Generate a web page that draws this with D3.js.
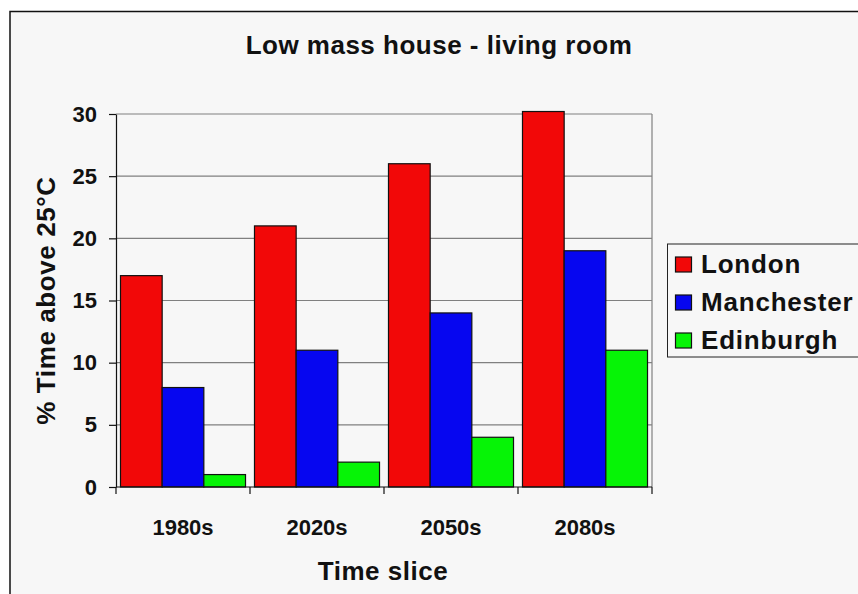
<!DOCTYPE html>
<html>
<head>
<meta charset="utf-8">
<script src="https://cdn.jsdelivr.net/npm/d3@7"></script>
<style>
  html, body { margin: 0; padding: 0; background: #fff; }
  svg { display: block; font-family: "Liberation Sans", Arial, sans-serif; font-weight: bold; }
</style>
</head>
<body>
<div id="chart"></div>
<script>
// data
const timeSlices = ['1980s', '2020s', '2050s', '2080s'];
const cities = ['London', 'Manchester', 'Edinburgh'];
const london = [17, 21, 26, 30.2];
const manchester = [8, 11, 14, 19];
const edinburgh = [1, 2, 4, 11];
const yTicks = [0, 5, 10, 15, 20, 25, 30];
const colors = ['#f20808', '#0606f0', '#06f406'];

const width = 858;
const height = 594;
const plot = { left: 116, right: 652, top: 114, bottom: 487 };

const svg = d3.select('#chart')
  .append('svg')
  .attr('width', width)
  .attr('height', height);

// outer frame of the chart
svg.append('rect')
  .attr('x', 10).attr('y', 11.5)
  .attr('width', 900).attr('height', 700)
  .attr('fill', '#f7f7f7')
  .attr('stroke', '#111')
  .attr('stroke-width', 1.5);

const rows = timeSlices.map((t, i) => ({ slice: t, values: [london[i], manchester[i], edinburgh[i]] }));

const x0 = d3.scaleBand()
  .domain(timeSlices)
  .range([plot.left, plot.right])
  .paddingInner(0.067)
  .paddingOuter(0.0335);

const x1 = d3.scaleBand()
  .domain(cities)
  .range([0, x0.bandwidth()]);

const y = d3.scaleLinear()
  .domain([0, 30])
  .range([plot.bottom, plot.top]);

// gridlines
svg.append('g')
  .selectAll('line')
  .data(yTicks.filter(d => d > 0))
  .enter()
  .append('line')
  .attr('x1', plot.left).attr('x2', plot.right)
  .attr('y1', d => y(d)).attr('y2', d => y(d))
  .attr('stroke', '#808080')
  .attr('stroke-width', 1.2);

// right edge of plot area
svg.append('line')
  .attr('x1', plot.right).attr('x2', plot.right)
  .attr('y1', plot.top).attr('y2', plot.bottom)
  .attr('stroke', '#808080')
  .attr('stroke-width', 1.2);

// bars
const groups = svg.append('g')
  .selectAll('g')
  .data(rows)
  .enter()
  .append('g')
  .attr('transform', d => 'translate(' + x0(d.slice) + ',0)');

groups.selectAll('rect')
  .data(d => d.values.map((v, i) => ({ city: cities[i], value: v })))
  .enter()
  .append('rect')
  .attr('x', d => x1(d.city))
  .attr('y', d => y(d.value))
  .attr('width', x1.bandwidth())
  .attr('height', d => y(0) - y(d.value))
  .attr('fill', (d, i) => colors[i])
  .attr('stroke', '#111')
  .attr('stroke-width', 1.2);

// y axis
const yAxis = svg.append('g')
  .attr('transform', 'translate(' + plot.left + ',0)')
  .call(d3.axisLeft(y).tickValues(yTicks).tickSize(7).tickPadding(12).tickSizeOuter(0));
yAxis.select('.domain').attr('stroke', '#111').attr('stroke-width', 1.2);
yAxis.selectAll('.tick line').attr('stroke', '#111').attr('stroke-width', 1.2);
yAxis.selectAll('.tick text')
  .attr('fill', '#111')
  .style('font-size', '22px')
  .style('font-family', '"Liberation Sans", Arial, sans-serif')
  .style('font-weight', 'bold');

// x axis: labels centred under groups, ticks on the group boundaries
const xAxis = svg.append('g')
  .attr('transform', 'translate(0,' + plot.bottom + ')')
  .call(d3.axisBottom(x0).tickSize(0).tickPadding(32));
xAxis.select('.domain').remove();
xAxis.selectAll('.tick text')
  .attr('fill', '#111')
  .style('font-size', '22px')
  .style('font-family', '"Liberation Sans", Arial, sans-serif')
  .style('font-weight', 'bold');

svg.append('line')
  .attr('x1', plot.left).attr('x2', plot.right)
  .attr('y1', plot.bottom).attr('y2', plot.bottom)
  .attr('stroke', '#111').attr('stroke-width', 1.2);

const bounds = timeSlices.map((t, i) => plot.left + i * x0.step()).concat([plot.right]);
svg.append('g')
  .selectAll('line')
  .data(bounds)
  .enter()
  .append('line')
  .attr('x1', d => d).attr('x2', d => d)
  .attr('y1', plot.bottom).attr('y2', plot.bottom + 7)
  .attr('stroke', '#111').attr('stroke-width', 1.2);

// titles
svg.append('text')
  .attr('x', 439).attr('y', 54)
  .attr('text-anchor', 'middle')
  .style('font-size', '26px')
  .style('letter-spacing', '0.5px')
  .attr('fill', '#111')
  .text('Low mass house - living room');

svg.append('text')
  .attr('x', (plot.left + plot.right) / 2 - 1).attr('y', 580)
  .attr('text-anchor', 'middle')
  .style('font-size', '26px')
  .style('letter-spacing', '0.5px')
  .attr('fill', '#111')
  .text('Time slice');

svg.append('text')
  .attr('transform', 'translate(55,' + (plot.top + plot.bottom) / 2 + ') rotate(-90)')
  .attr('text-anchor', 'middle')
  .style('font-size', '26px')
  .style('letter-spacing', '0.6px')
  .attr('fill', '#111')
  .text('% Time above 25°C');

// legend
const legend = svg.append('g');
legend.append('rect')
  .attr('x', 667.5).attr('y', 244)
  .attr('width', 260).attr('height', 113)
  .attr('fill', '#f7f7f7')
  .attr('stroke', '#222')
  .attr('stroke-width', 1);

const items = legend.selectAll('g.item')
  .data(cities)
  .enter()
  .append('g')
  .attr('class', 'item')
  .attr('transform', (d, i) => 'translate(0,' + (273 + i * 38) + ')');

items.append('rect')
  .attr('x', 675.5).attr('y', -16)
  .attr('width', 16).attr('height', 15)
  .attr('fill', (d, i) => colors[i])
  .attr('stroke', '#111')
  .attr('stroke-width', 1.2);

items.append('text')
  .attr('x', 701).attr('y', 0)
  .style('font-size', '26px')
  .style('letter-spacing', '0.8px')
  .attr('fill', '#111')
  .text(d => d);
</script>
</body>
</html>
